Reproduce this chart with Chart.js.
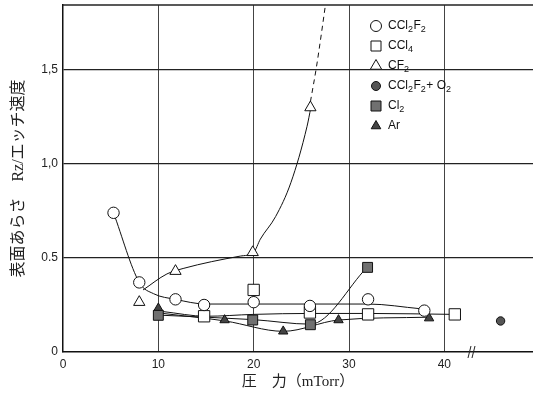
<!DOCTYPE html>
<html>
<head>
<meta charset="utf-8">
<script src="https://cdn.jsdelivr.net/npm/chart.js@4.4.1/dist/chart.umd.min.js"></script>
<style>
  html, body { margin: 0; padding: 0; background: #fff; }
  #wrap { width: 533px; height: 405px; }
</style>
</head>
<body>
<div id="wrap"><canvas id="grafico" width="533" height="405"></canvas></div>
<script>
// measured points (pressure mTorr, roughness / etch rate)
const ccl2f2X = [5.3, 8.0, 11.8, 14.8, 20.0, 25.9, 32.0, 37.9];
const ccl2f2Y = [0.74, 0.37, 0.28, 0.25, 0.265, 0.245, 0.28, 0.22];
const ccl4X = [14.8, 20.0, 25.9, 32.0, 41.1];
const ccl4Y = [0.19, 0.33, 0.21, 0.20, 0.20];
const cf2X = [8.0, 11.8, 19.9, 25.95];
const cf2Y = [0.265, 0.43, 0.53, 1.30];
const o2X = [45.9];
const o2Y = [0.165];
const cl2X = [10.0, 19.9, 25.95, 31.95];
const cl2Y = [0.195, 0.17, 0.145, 0.45];
const arX = [10.0, 16.95, 23.1, 28.9, 38.4];
const arY = [0.232, 0.17, 0.11, 0.17, 0.18];

// hand drawn curves
const ccl2f2CurvaX = [5.3, 8.0, 9.5, 11.8, 15, 20, 26, 32, 37.5];
const ccl2f2CurvaY = [0.74, 0.37, 0.31, 0.28, 0.255, 0.255, 0.255, 0.255, 0.23];
const ccl4CurvaX = [10.5, 15, 20, 26, 32, 41];
const ccl4CurvaY = [0.215, 0.19, 0.2, 0.205, 0.205, 0.2];
const cf2CurvaX = [8.4, 10.9, 12.6, 18.6, 20, 20.7, 22.3, 23.9, 25.6, 26];
const cf2CurvaY = [0.33, 0.415, 0.444, 0.51, 0.53, 0.6, 0.72, 0.9, 1.2, 1.3];
const cf2PuntosX = [25.95, 26.6, 27.6];
const cf2PuntosY = [1.33, 1.52, 1.87];
const cl2CurvaX = [10.5, 20, 25.95, 31.9];
const cl2CurvaY = [0.195, 0.172, 0.148, 0.45];
const arCurvaX = [10.5, 17, 23.1, 28.9, 38.4];
const arCurvaY = [0.205, 0.165, 0.11, 0.17, 0.185];

const ticksX = [0, 10, 20, 30, 40];
const ticksY = [0, 0.5, 1.0, 1.5];
const etiquetasY = ["0", "0.5", "1,0", "1,5"];

const leyenda = [
    { forma: "circle", relleno: "#fff", texto: [["CCl", 0], ["2", 1], ["F", 0], ["2", 1]] },
    { forma: "rect", relleno: "#fff", texto: [["CCl", 0], ["4", 1]] },
    { forma: "triangle", relleno: "#fff", texto: [["CF", 0], ["2", 1]] },
    { forma: "circle", relleno: "#555", texto: [["CCl", 0], ["2", 1], ["F", 0], ["2", 1], ["+ O", 0], ["2", 1]] },
    { forma: "rect", relleno: "#707070", texto: [["Cl", 0], ["2", 1]] },
    { forma: "triangle", relleno: "#444", texto: [["Ar", 0]] }
];

function pares(xs, ys) {
    return xs.map((x, i) => ({ x: x, y: ys[i] }));
}

function marcas(datos, estilo, radio, relleno) {
    return {
        data: datos, showLine: false, order: 0,
        pointStyle: estilo, pointRadius: radio, pointHoverRadius: radio,
        pointBackgroundColor: relleno, pointBorderColor: "#111", pointBorderWidth: 1
    };
}

function curva(datos, dash) {
    return {
        data: datos, showLine: true, order: 1, pointRadius: 0,
        borderColor: "#111", borderWidth: 1, borderDash: dash || [],
        cubicInterpolationMode: "monotone", fill: false
    };
}

function dibujarMarca(ctx, forma, x, y, r, relleno) {
    ctx.beginPath();
    if (forma === "circle") {
        ctx.arc(x, y, r, 0, Math.PI * 2);
    } else if (forma === "rect") {
        ctx.rect(x - r, y - r, 2 * r, 2 * r);
    } else {
        ctx.moveTo(x, y - r);
        ctx.lineTo(x + r * 0.87, y + r * 0.5);
        ctx.lineTo(x - r * 0.87, y + r * 0.5);
        ctx.closePath();
    }
    ctx.fillStyle = relleno;
    ctx.fill();
    ctx.strokeStyle = "#111";
    ctx.lineWidth = 1;
    ctx.stroke();
}

const extras = {
    id: "extras",
    afterDraw(chart) {
        const ctx = chart.ctx;
        const a = chart.chartArea;
        const sx = chart.scales.x;
        ctx.save();
        // top frame
        ctx.strokeStyle = "#222";
        ctx.lineWidth = 1.5;
        ctx.beginPath();
        ctx.moveTo(a.left, a.top);
        ctx.lineTo(a.right, a.top);
        ctx.stroke();

        // axis break
        const pb = sx.getPixelForValue(42.9);
        ctx.lineWidth = 1;
        ctx.beginPath();
        ctx.moveTo(pb - 4, a.bottom + 6);
        ctx.lineTo(pb - 1, a.bottom - 6);
        ctx.moveTo(pb, a.bottom + 6);
        ctx.lineTo(pb + 3, a.bottom - 6);
        ctx.stroke();

        // legend
        const formas = { circle: 5.5, rect: 5, triangle: 6.5 };
        leyenda.forEach((item, i) => {
            const y = 26 + i * 20;
            let r = formas[item.forma];
            if (i === 3) r = 4.5;
            if (i === 5) r = 5.5;
            dibujarMarca(ctx, item.forma, 376, y, r, item.relleno);
            let x = 388;
            ctx.fillStyle = "#111";
            ctx.textBaseline = "middle";
            ctx.textAlign = "left";
            item.texto.forEach(([t, sub]) => {
                ctx.font = sub ? "9px 'Liberation Sans'" : "12px 'Liberation Sans'";
                ctx.fillText(t, x, sub ? y + 4 : y);
                x += ctx.measureText(t).width + (sub ? 0.5 : 0);
            });
        });
        ctx.restore();
    }
};

new Chart(document.getElementById("grafico"), {
    type: "scatter",
    data: {
        datasets: [
            curva(pares(ccl2f2CurvaX, ccl2f2CurvaY)),
            curva(pares(ccl4CurvaX, ccl4CurvaY)),
            curva(pares(cf2CurvaX, cf2CurvaY)),
            curva(pares(cf2PuntosX, cf2PuntosY), [5, 4]),
            curva(pares(cl2CurvaX, cl2CurvaY)),
            curva(pares(arCurvaX, arCurvaY)),
            marcas(pares(ccl2f2X, ccl2f2Y), "circle", 5.7, "#fff"),
            marcas(pares(ccl4X, ccl4Y), "rect", 8, "#fff"),
            marcas(pares(cf2X, cf2Y), "triangle", 6.5, "#fff"),
            marcas(pares(o2X, o2Y), "circle", 4.2, "#555"),
            marcas(pares(cl2X, cl2Y), "rect", 7, "#707070"),
            marcas(pares(arX, arY), "triangle", 5.4, "#444")
        ]
    },
    options: {
        responsive: false,
        animation: false,
        layout: { autoPadding: false, padding: { top: 5, right: 0, left: 0, bottom: 0 } },
        plugins: {
            legend: { display: false },
            tooltip: { enabled: false }
        },
        scales: {
            x: {
                type: "linear", min: 0, max: 49.3,
                afterBuildTicks: s => { s.ticks = ticksX.map(v => ({ value: v })); },
                afterFit: s => { s.height = 53; s.paddingRight = 0; s.paddingLeft = 0; },
                border: { color: "#111", width: 1.5 },
                grid: {
                    drawTicks: false,
                    color: c => (c.tick && c.tick.value === 0) ? "rgba(0,0,0,0)" : "#444",
                    lineWidth: 1
                },
                ticks: {
                    padding: 5, color: "#222",
                    font: { family: "'Liberation Sans'", size: 12 },
                    callback: v => String(v)
                },
                title: {
                    display: true, text: "圧　力（mTorr）", color: "#222",
                    font: { family: "'Liberation Serif', 'Noto Sans CJK JP'", size: 15 },
                    padding: { top: 0, bottom: 14 }
                }
            },
            y: {
                type: "linear", min: 0, max: 1.845,
                afterBuildTicks: s => { s.ticks = ticksY.map(v => ({ value: v })); },
                afterFit: s => { s.width = 63; s.paddingTop = 0; s.paddingBottom = 0; },
                border: { color: "#111", width: 1.5 },
                grid: {
                    drawTicks: false,
                    color: c => (c.tick && c.tick.value === 0) ? "rgba(0,0,0,0)" : "#222",
                    lineWidth: 1.3
                },
                ticks: {
                    padding: 5, color: "#222",
                    font: { family: "'Liberation Sans'", size: 12 },
                    callback: (v) => etiquetasY[ticksY.indexOf(v)]
                },
                title: {
                    display: true, text: "表面あらさ　Rz/エッチ速度", color: "#222",
                    font: { family: "'Liberation Serif', 'Noto Sans CJK JP'", size: 16 },
                    padding: { top: 9, bottom: 0 }
                }
            }
        }
    },
    plugins: [extras]
});
</script>
</body>
</html>
